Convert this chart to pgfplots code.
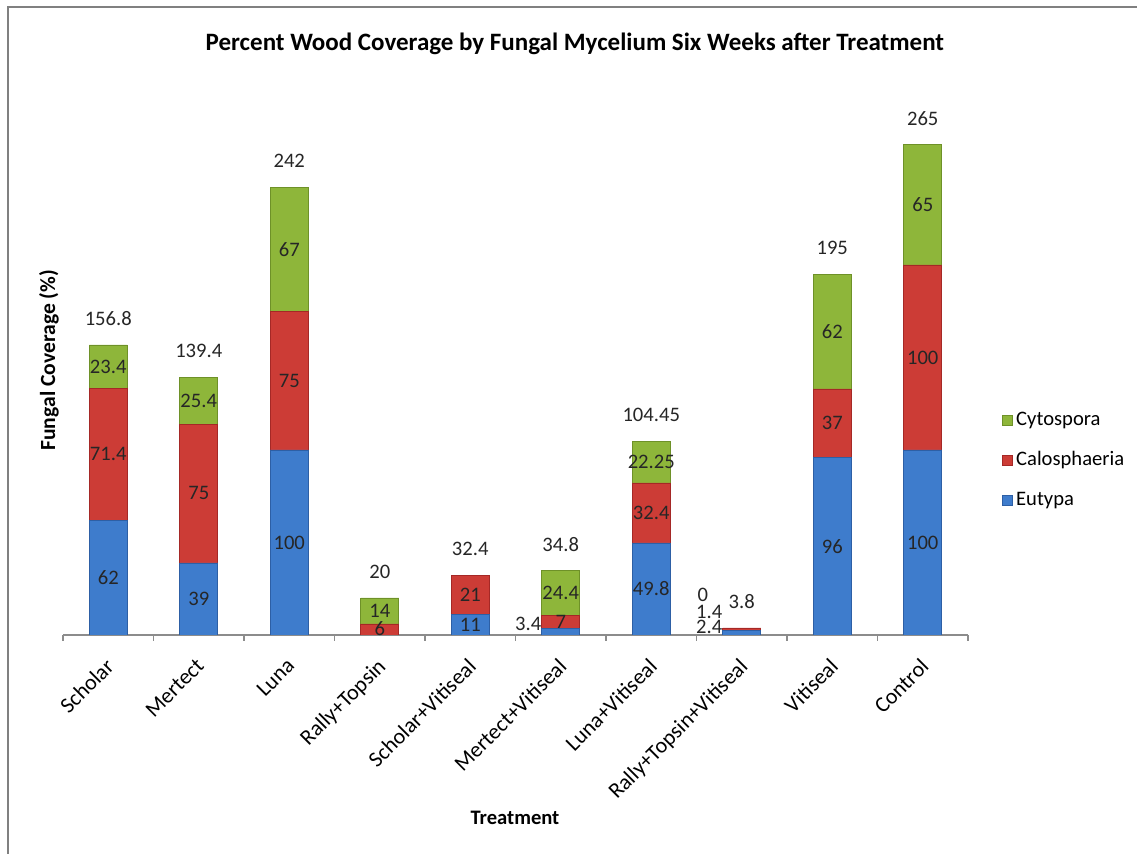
\documentclass[border=0pt]{standalone}
\usepackage{pgfplots}
\pgfplotsset{compat=1.18}
\usepackage{pgfplotstable}
\usepackage{fontspec}
\setmainfont{Carlito}
\definecolor{eut}{RGB}{62,124,204}
\definecolor{eutD}{RGB}{45,95,165}
\definecolor{cal}{RGB}{204,60,54}
\definecolor{calD}{RGB}{165,40,38}
\definecolor{cyt}{RGB}{142,182,58}
\definecolor{cytD}{RGB}{110,145,40}
\definecolor{frame}{RGB}{128,128,128}
\definecolor{axgray}{RGB}{140,140,140}

\pgfplotstableread{
x Eut Cal Cyt
0 62 71.4 23.4
1 39 75 25.4
2 100 75 67
3 0 6 14
4 11 21.4 0
5 3.4 7 24.4
6 49.8 32.4 22.25
7 2.4 1.4 0
8 96 37 62
9 100 100 65
}\bars

\pgfplotstableread{
x y lab
0 31 62
0 97.7 71.4
0 145.1 23.4
1 19.5 39
1 76.5 75
1 126.7 25.4
2 50 100
2 137.5 75
2 208.5 67
3 3.5 6
3 12.8 14
4 5.5 11
4 21.7 21
4.64 5.9 3.4
5 6.9 7
5 22.6 24.4
6 24.9 49.8
6 66 32.4
6 93.3 22.25
6.57 21.6 0
6.64 12.4 1.4
6.64 4.3 2.4
8 48 96
8 114.5 37
8 164 62
9 50 100
9 150 100
9 232.5 65
0 171.1 156.8
1 153.7 139.4
2 256.3 242
3 34.3 20
4 46.7 32.4
5 49.1 34.8
6 118.75 104.45
7 18.3 3.8
8 209.3 195
9 279.3 265
}\labels

\begin{document}
\begin{tikzpicture}
\useasboundingbox (0,0) rectangle (568.5pt,427pt);
\draw[frame, line width=1.3pt] (4pt,0) -- (4pt,423.5pt) -- (568.5pt,423.5pt);
\begin{axis}[
  at={(31.5pt,109.5pt)}, anchor=south west,
  scale only axis, width=452.5pt, height=277.5pt,
  xmin=-0.5, xmax=9.5, ymin=0, ymax=300,
  ybar stacked, bar width=19pt,
  axis x line*=bottom, axis y line*=left,
  y axis line style={draw=none}, ytick=\empty,
  x axis line style={axgray, line width=0.6pt},
  xtick={0,...,9},
  xticklabels={Scholar,Mertect,Luna,Rally+Topsin,Scholar+Vitiseal,Mertect+Vitiseal,Luna+Vitiseal,Rally+Topsin+Vitiseal,Vitiseal,Control},
  major tick length=0pt,
  extra x ticks={-0.5,0.5,...,9.5},
  extra x tick labels={},
  extra x tick style={major tick length=3pt, tick align=outside, tick style={axgray, line width=0.6pt}},
  xticklabel style={rotate=45, anchor=north east, inner sep=0pt, font=\fontsize{11}{13}\selectfont, xshift=-9pt, yshift=-6.4pt},
  title={Percent Wood Coverage by Fungal Mycelium Six Weeks after Treatment},
  title style={at={(axis description cs:0.5657,1.043)}, anchor=center, yshift=0pt, font=\fontsize{12.5}{14}\selectfont\bfseries},
  xlabel={Treatment},
  xlabel style={at={(axis description cs:0.4994,-0.33)}, anchor=center, font=\fontsize{10.3}{12}\selectfont\bfseries},
  ylabel={Fungal Coverage (\%)},
  ylabel style={at={(axis description cs:-0.0155,0.495)}, anchor=center, font=\fontsize{10.8}{12}\selectfont\bfseries},
  legend style={at={(1.03,0.315)}, anchor=west, draw=none, fill=none,
    font=\fontsize{10.3}{12}\selectfont, row sep=7.5pt},
  legend cell align=left,
  reverse legend,
  legend image code/.code={\path[#1] (0pt,-2.5pt) rectangle (5pt,2.5pt);},
]
\addplot[fill=eut, draw=eutD, line width=0.3pt] table[x=x,y=Eut] {\bars};
\addlegendentry{Eutypa}
\addplot[fill=cal, draw=calD, line width=0.3pt] table[x=x,y=Cal] {\bars};
\addlegendentry{Calosphaeria}
\addplot[fill=cyt, draw=cytD, line width=0.3pt] table[x=x,y=Cyt] {\bars};
\addlegendentry{Cytospora}
\end{axis}
\begin{axis}[
  at={(31.5pt,109.5pt)}, anchor=south west,
  scale only axis, width=452.5pt, height=277.5pt,
  xmin=-0.5, xmax=9.5, ymin=0, ymax=300,
  hide axis,
]
\addplot[draw=none, mark=none, nodes near coords, point meta=explicit symbolic,
  every node near coord/.style={anchor=center, inner sep=0pt, font=\fontsize{10.3}{12}\selectfont, text=black!85}]
  table[x=x,y=y,meta=lab] {\labels};
\end{axis}
\end{tikzpicture}
\end{document}
